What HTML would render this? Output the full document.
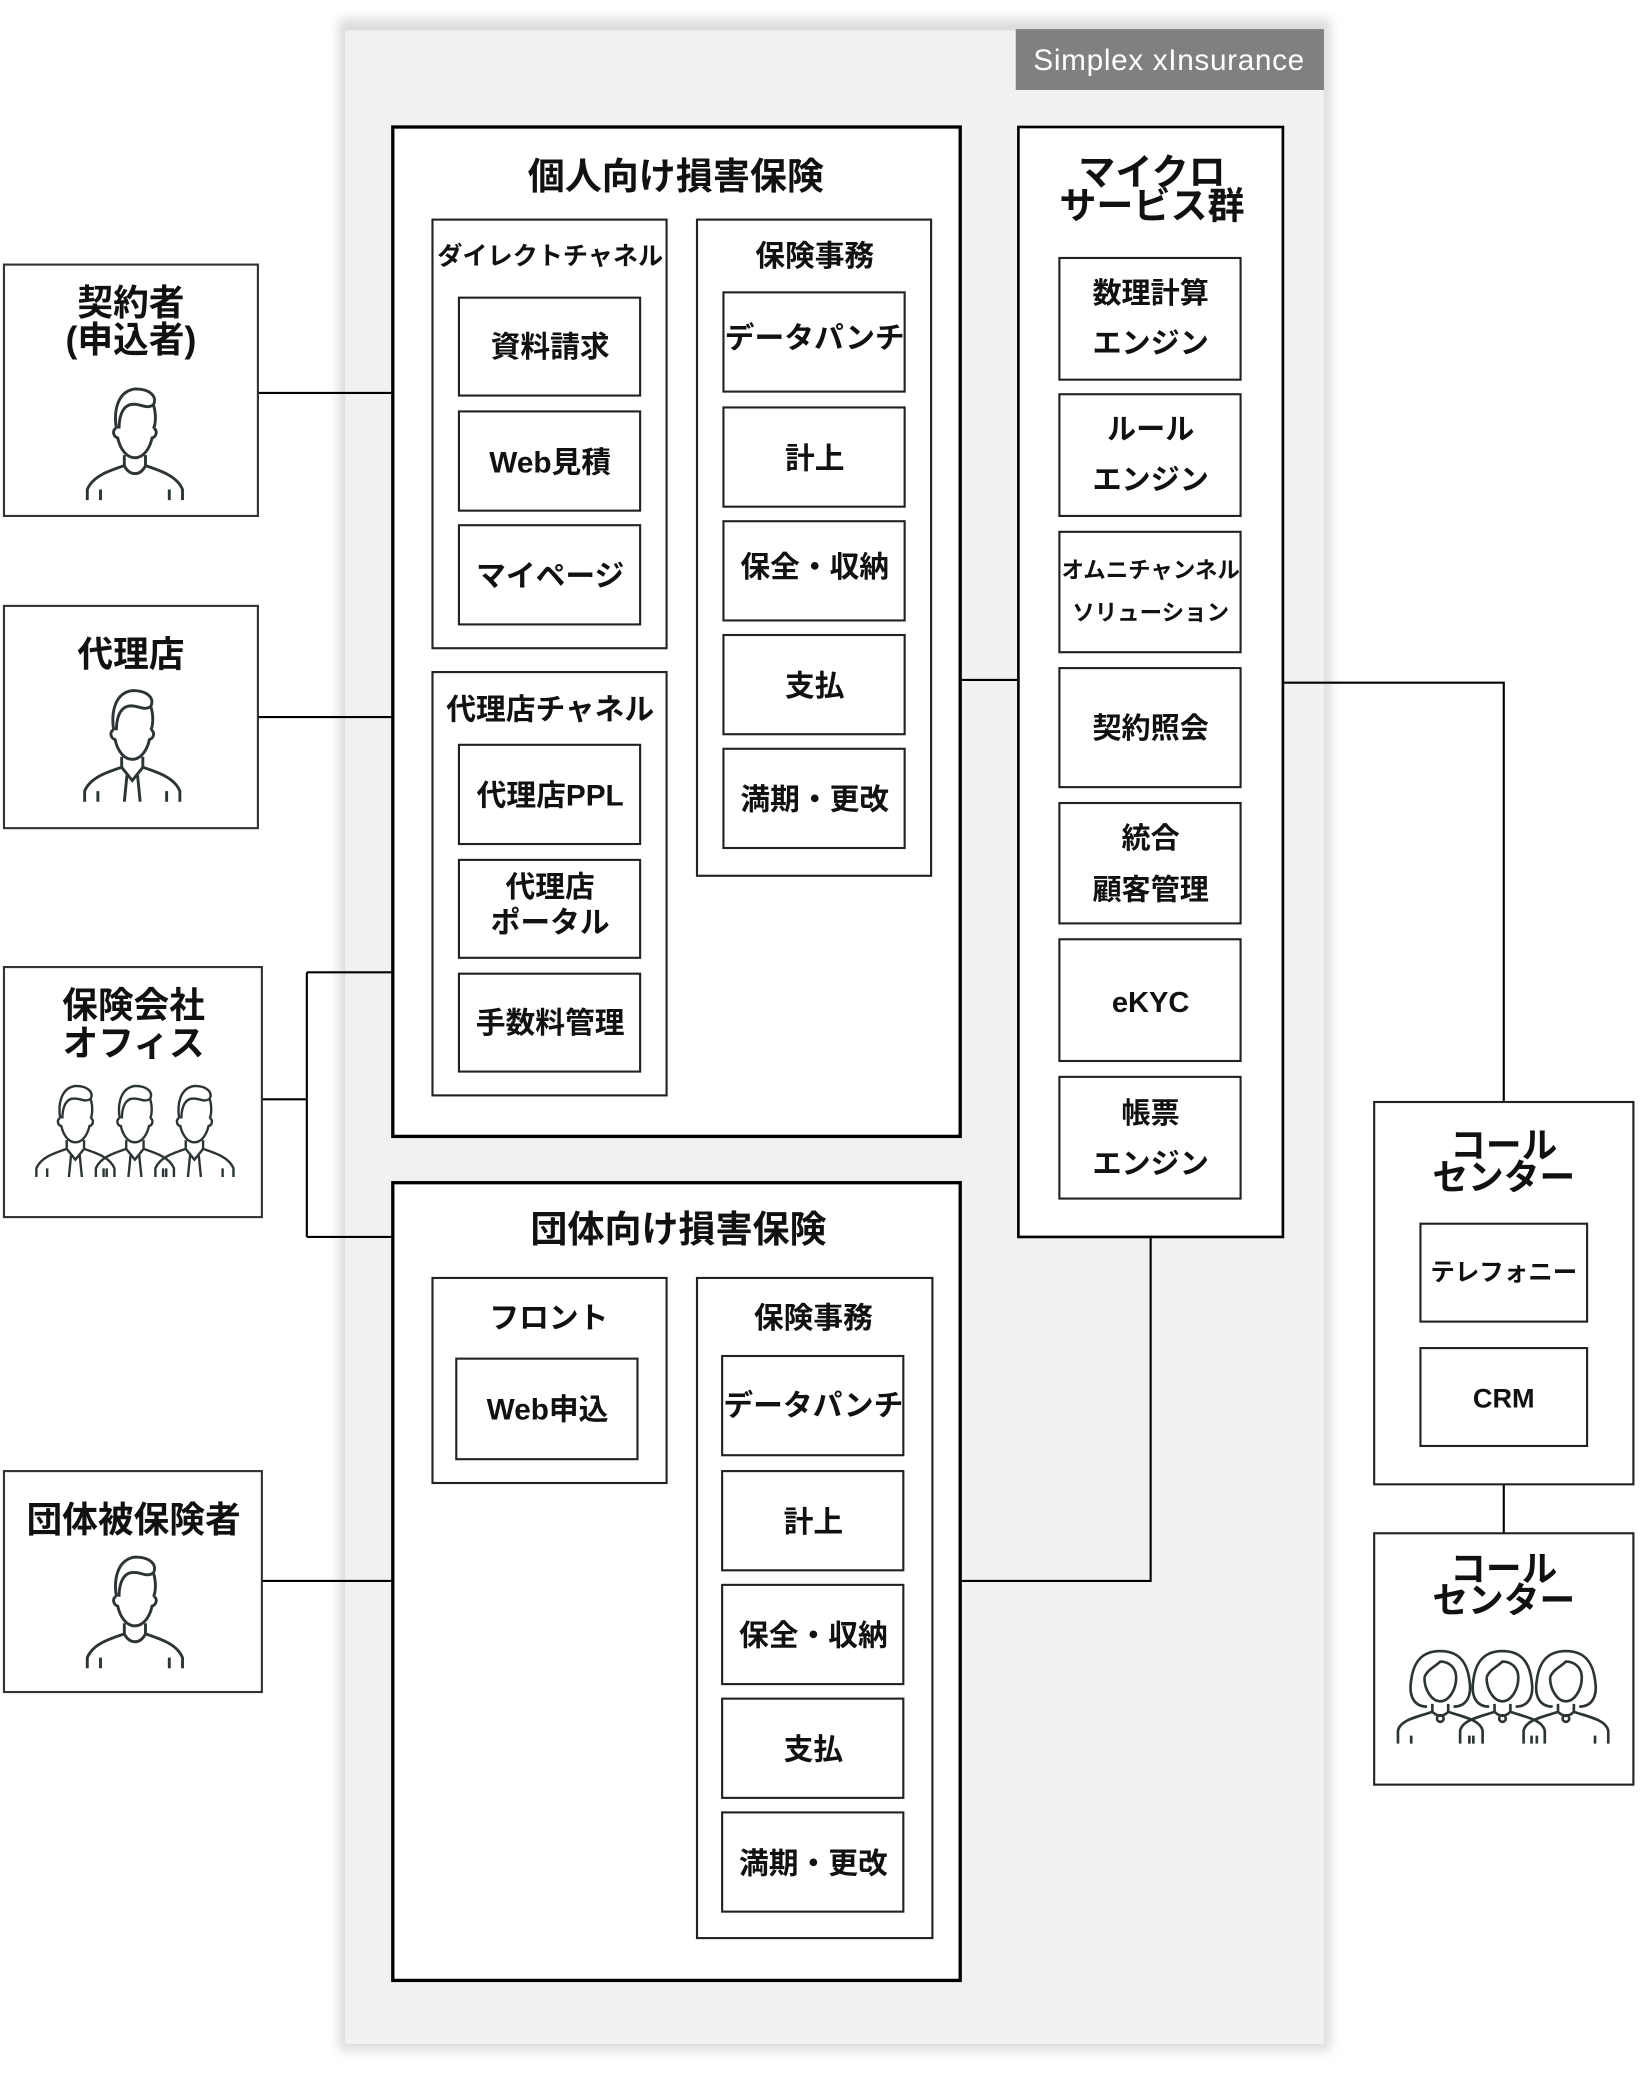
<!DOCTYPE html>
<html><head><meta charset="utf-8"><style>
html,body{margin:0;padding:0;background:#fff;}
svg{display:block;}
text{font-family:"Liberation Sans","Noto Sans CJK JP",sans-serif;font-weight:bold;fill:#111;text-anchor:middle;}
</style></head><body>
<svg width="1640" height="2077" viewBox="0 0 1240 1570" preserveAspectRatio="none" xmlns="http://www.w3.org/2000/svg">
<defs>
<filter id="bl" x="-5%" y="-5%" width="110%" height="110%"><feGaussianBlur stdDeviation="4"/></filter>
<g id="man" fill="none" stroke="#2d3436" stroke-width="2.2">
<path d="M-14,-8 C-16,-20 -14,-36 0,-38 C12,-38 17,-32 14,-26 C8,-22 4,-28 -4,-26 C-10,-24 -12,-16 -12,-8 M14,-26 C16,-20 16,-12 14,-8 M-14,-8 C-17,-8 -17,-2 -13,-1 C-11,8 -6,14 0,14 C6,14 11,8 13,-1 C17,-2 17,-8 14,-8"/>
<path d="M-8,12 L-8,20 C-20,24 -32,28 -36,38 L-36,46 M8,12 L8,20 C20,24 32,28 36,38 L36,46 M-8,20 C-4,28 4,28 8,20 M-26,38 L-26,46 M26,38 L26,46"/>
</g>
<g id="man2" fill="none" stroke="#2d3436" stroke-width="2.2">
<path d="M-14,-8 C-16,-20 -14,-36 0,-38 C12,-38 17,-32 14,-26 C8,-22 4,-28 -4,-26 C-10,-24 -12,-16 -12,-8 M14,-26 C16,-20 16,-12 14,-8 M-14,-8 C-17,-8 -17,-2 -13,-1 C-11,8 -6,14 0,14 C6,14 11,8 13,-1 C17,-2 17,-8 14,-8"/>
<path d="M-8,12 L-8,20 C-20,24 -32,28 -36,38 L-36,46 M8,12 L8,20 C20,24 32,28 36,38 L36,46 M-8,20 L0,30 L8,20 M-4,26 L-6,46 M4,26 L6,46 M-26,38 L-26,46 M26,38 L26,46"/>
</g>
<g id="wom" fill="none" stroke="#2d3436" stroke-width="2">
<path d="M-10,8 C-20,8 -24,0 -22,-12 C-20,-28 -12,-34 0,-34 C12,-34 20,-28 22,-12 C24,0 20,8 10,8"/>
<path d="M-12,-14 C-12,-4 -6,4 0,4 C6,4 12,-4 12,-14 C12,-22 6,-26 0,-26 C-4,-22 -10,-20 -12,-14"/>
<path d="M-6,6 L-6,12 C-18,16 -30,18 -32,26 L-32,36 M6,6 L6,12 C18,16 30,18 32,26 L32,36 M-6,12 C-2,16 2,16 6,12 M-22,30 L-22,36 M22,30 L22,36"/>
<circle cx="0" cy="17" r="2.5"/>
</g>
</defs>

<rect x="256" y="14" width="750" height="1536" fill="#dcdcdc" filter="url(#bl)"/>
<rect x="261" y="23" width="740" height="1522" fill="#f1f1f1"/>
<rect x="768" y="22" width="233" height="46" fill="#808080"/>
<text x="884" y="53" style="font-weight:normal;fill:#fff;font-size:22.5px;letter-spacing:0.5px">Simplex xInsurance</text>

<g stroke="#000" stroke-width="1.6" fill="none">
<path d="M195,297 H297"/>
<path d="M195,542 H297"/>
<path d="M198,831 H232 M232,735 V935 M232,735 H297 M232,935 H297"/>
<path d="M198,1195 H297"/>
<path d="M726,514 H770"/>
<path d="M970,516 H1137 V833"/>
<path d="M870,935 V1195 H726"/>
<path d="M1137,1122 V1159"/>
</g>

<g fill="#fff" stroke="#333" stroke-width="1.6">
<rect x="3" y="200" width="192" height="190"/>
<rect x="3" y="458" width="192" height="168"/>
<rect x="3" y="731" width="195" height="189"/>
<rect x="3" y="1112" width="195" height="167"/>
</g>
<g font-size="27">
<text x="99" y="238">契約者</text>
<text x="99" y="266">(申込者)</text>
<text x="99" y="504">代理店</text>
<text x="101" y="769">保険会社</text>
<text x="101" y="798">オフィス</text>
<text x="101" y="1158">団体被保険者</text>
</g>
<use href="#man" x="102" y="332"/>
<use href="#man2" x="100" y="560"/>
<use href="#man2" x="57" y="852" transform="translate(57,852) scale(0.82) translate(-57,-852)"/>
<use href="#man2" x="102" y="852" transform="translate(102,852) scale(0.82) translate(-102,-852)"/>
<use href="#man2" x="147" y="852" transform="translate(147,852) scale(0.82) translate(-147,-852)"/>
<use href="#man" x="102" y="1215"/>

<rect x="297" y="96" width="429" height="763" fill="#fff" stroke="#000" stroke-width="2.5"/>
<text x="511" y="143" font-size="28">個人向け損害保険</text>
<g fill="#fff" stroke="#222" stroke-width="1.6">
<rect x="327" y="166" width="177" height="324"/>
<rect x="327" y="508" width="177" height="320"/>
<rect x="527" y="166" width="177" height="496"/>
<rect x="347" y="225" width="137" height="74"/>
<rect x="347" y="311" width="137" height="75"/>
<rect x="347" y="397" width="137" height="75"/>
<rect x="347" y="563" width="137" height="75"/>
<rect x="347" y="650" width="137" height="74"/>
<rect x="347" y="736" width="137" height="74"/>
<rect x="547" y="221" width="137" height="75"/>
<rect x="547" y="308" width="137" height="75"/>
<rect x="547" y="394" width="137" height="75"/>
<rect x="547" y="480" width="137" height="75"/>
<rect x="547" y="566" width="137" height="75"/>
</g>
<g font-size="22.5">
<text x="416" y="200" font-size="19">ダイレクトチャネル</text>
<text x="416" y="270">資料請求</text>
<text x="416" y="357">Web見積</text>
<text x="416" y="443">マイページ</text>
<text x="416" y="544">代理店チャネル</text>
<text x="416" y="609">代理店PPL</text>
<text x="416" y="678">代理店</text>
<text x="416" y="705">ポータル</text>
<text x="416" y="781">手数料管理</text>
<text x="616" y="201">保険事務</text>
<text x="616" y="263">データパンチ</text>
<text x="616" y="354">計上</text>
<text x="616" y="436">保全・収納</text>
<text x="616" y="526">支払</text>
<text x="616" y="612">満期・更改</text>
</g>

<rect x="297" y="894" width="429" height="603" fill="#fff" stroke="#000" stroke-width="2.5"/>
<text x="513" y="939" font-size="28">団体向け損害保険</text>
<g fill="#fff" stroke="#222" stroke-width="1.6">
<rect x="327" y="966" width="177" height="155"/>
<rect x="527" y="966" width="178" height="499"/>
<rect x="345" y="1027" width="137" height="76"/>
<rect x="546" y="1025" width="137" height="75"/>
<rect x="546" y="1112" width="137" height="75"/>
<rect x="546" y="1198" width="137" height="75"/>
<rect x="546" y="1284" width="137" height="75"/>
<rect x="546" y="1370" width="137" height="75"/>
</g>
<g font-size="22.5">
<text x="415" y="1004">フロント</text>
<text x="414" y="1073">Web申込</text>
<text x="615" y="1004">保険事務</text>
<text x="615" y="1070">データパンチ</text>
<text x="615" y="1158">計上</text>
<text x="615" y="1244">保全・収納</text>
<text x="615" y="1330">支払</text>
<text x="615" y="1416">満期・更改</text>
</g>

<rect x="770" y="96" width="200" height="839" fill="#fff" stroke="#000" stroke-width="2"/>
<text x="871" y="140" font-size="28">マイクロ</text>
<text x="871" y="165" font-size="28">サービス群</text>
<g fill="#fff" stroke="#222" stroke-width="1.6">
<rect x="801" y="195" width="137" height="92"/>
<rect x="801" y="298" width="137" height="92"/>
<rect x="801" y="402" width="137" height="91"/>
<rect x="801" y="505" width="137" height="90"/>
<rect x="801" y="607" width="137" height="91"/>
<rect x="801" y="710" width="137" height="92"/>
<rect x="801" y="814" width="137" height="92"/>
</g>
<g font-size="22">
<text x="870" y="229">数理計算</text>
<text x="870" y="267">エンジン</text>
<text x="870" y="332">ルール</text>
<text x="870" y="370">エンジン</text>
<text x="870" y="437" font-size="17">オムニチャンネル</text>
<text x="870" y="469" font-size="17">ソリューション</text>
<text x="870" y="558">契約照会</text>
<text x="870" y="641">統合</text>
<text x="870" y="680">顧客管理</text>
<text x="870" y="765">eKYC</text>
<text x="870" y="849">帳票</text>
<text x="870" y="887">エンジン</text>
</g>

<g fill="#fff" stroke="#222" stroke-width="1.6">
<rect x="1039" y="833" width="196" height="289"/>
<rect x="1074" y="925" width="126" height="74"/>
<rect x="1074" y="1019" width="126" height="74"/>
<rect x="1039" y="1159" width="196" height="190"/>
</g>
<text x="1137" y="875" font-size="27">コール</text>
<text x="1137" y="899" font-size="27">センター</text>
<text x="1137" y="968" font-size="18.5">テレフォニー</text>
<text x="1137" y="1064" font-size="20.5">CRM</text>
<text x="1137" y="1195" font-size="27">コール</text>
<text x="1137" y="1219" font-size="27">センター</text>
<use href="#wom" transform="translate(1089,1282)"/>
<use href="#wom" transform="translate(1136,1282)"/>
<use href="#wom" transform="translate(1184,1282)"/>
</svg>
</body></html>
